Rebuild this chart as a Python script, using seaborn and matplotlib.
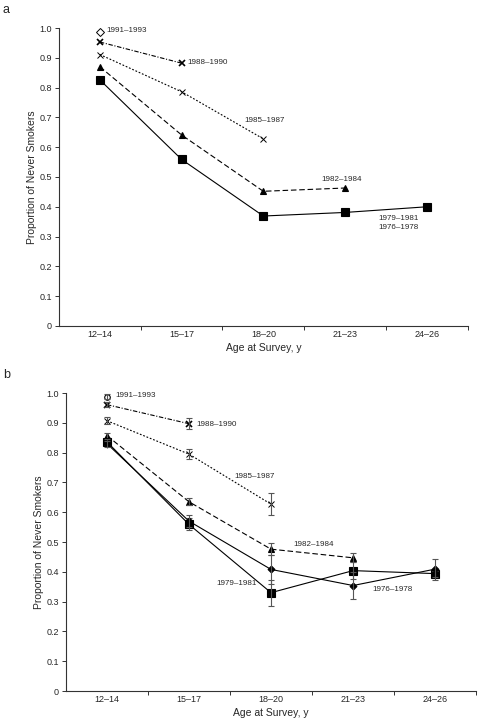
import pandas as pd
import seaborn as sns
import matplotlib.pyplot as plt
import numpy as np

ages = ['12–14', '15–17', '18–20', '21–23', '24–26']

# panel a values
a_1991 = [0.985]
a_1988 = [0.953, 0.882]
a_1985 = [0.911, 0.786, 0.628]
a_1982 = [0.870, 0.641, 0.452, 0.463]
a_1979 = [0.826, 0.559, 0.369, 0.381, 0.400]

# panel b values and error bars
b_1991 = [0.988]
b_1988 = [0.961, 0.897]
b_1985 = [0.907, 0.795, 0.627]
b_1982 = [0.857, 0.635, 0.476, 0.447]
b_1979 = [0.836, 0.559, 0.330, 0.404, 0.394]
b_1976 = [0.830, 0.570, 0.408, 0.354, 0.409]

b_1991_err = [0.008]
b_1988_err = [0.008, 0.018]
b_1985_err = [0.012, 0.017, 0.038]
b_1982_err = [0.010, 0.012, 0.020, 0.015]
b_1979_err = [0.010, 0.020, 0.044, 0.028, 0.010]
b_1976_err = [0.010, 0.020, 0.048, 0.045, 0.035]

sns.set_style('ticks')
plt.rcParams['font.family'] = ['Liberation Sans', 'DejaVu Sans']

fig = plt.figure(figsize=(4.78, 7.18), dpi=100)
ax_a = fig.add_axes([0.1234, 0.546, 0.855, 0.415])
ax_b = fig.add_axes([0.138, 0.0376, 0.858, 0.415])


def draw(ax, vals, ls, marker, ms, mfc='black', mew=0.8, err=None):
    df = pd.DataFrame({'x': np.arange(len(vals)), 'y': vals})
    sns.lineplot(data=df, x='x', y='y', ax=ax, color='black', lw=0.8,
                 linestyle=ls, marker=marker, markersize=ms,
                 markerfacecolor=mfc, markeredgecolor='black',
                 markeredgewidth=mew)
    if err is not None:
        ax.errorbar(df['x'], df['y'], yerr=err, fmt='none', ecolor='#555555',
                    elinewidth=0.8, capsize=2.5, capthick=0.8)


dashdot = (0, (4, 1.5, 1, 1.5))
dotted = (0, (1.6, 1.6))
dashed = (0, (5, 2.5))

# panel a
draw(ax_a, a_1991, '-', 'D', 4, mfc='white', mew=0.7)
draw(ax_a, a_1988, dashdot, 'x', 5, mew=1.2)
draw(ax_a, a_1985, dotted, 'x', 5, mew=0.7)
draw(ax_a, a_1982, dashed, '^', 5)
draw(ax_a, a_1979, '-', 's', 6)

# panel b
draw(ax_b, b_1991, '-', 'o', 4, mfc='white', err=b_1991_err)
draw(ax_b, b_1988, dashdot, 'x', 4, mew=1.2, err=b_1988_err)
draw(ax_b, b_1985, dotted, 'x', 4, mew=0.7, err=b_1985_err)
draw(ax_b, b_1982, dashed, '^', 5, err=b_1982_err)
draw(ax_b, b_1979, '-', 's', 6, err=b_1979_err)
draw(ax_b, b_1976, '-', 'D', 3.5, err=b_1976_err)

for ax in (ax_a, ax_b):
    ax.set_xlim(-0.5, 4.5)
    ax.set_ylim(0, 1.0)
    ax.set_yticks(np.arange(0, 1.01, 0.1))
    ax.set_yticklabels(['0'] + ['%.1f' % v for v in np.arange(0.1, 1.01, 0.1)])
    ax.set_xticks(np.arange(0.5, 4.6, 1.0))
    ax.set_xticklabels([])
    ax.set_xticks(np.arange(5), minor=True)
    ax.set_xticklabels(ages, minor=True)
    ax.tick_params(axis='x', which='minor', length=0, labelsize=6.5, pad=3)
    ax.tick_params(axis='x', which='major', length=3, width=0.7, color='#333333')
    ax.tick_params(axis='y', length=3, width=0.7, labelsize=6.5, color='#333333', pad=2)
    for s in ('top', 'right'):
        ax.spines[s].set_visible(False)
    for s in ('left', 'bottom'):
        ax.spines[s].set_linewidth(0.8)
        ax.spines[s].set_color('#333333')
    ax.set_xlabel('Age at Survey, y', fontsize=7.5, labelpad=3)
    ax.set_ylabel('Proportion of Never Smokers', fontsize=7.5, labelpad=2)

fs = 5.8
ax_a.text(0.085, 0.99, '1991–1993', fontsize=fs, va='center')
ax_a.text(1.07, 0.883, '1988–1990', fontsize=fs, va='center')
ax_a.text(1.77, 0.688, '1985–1987', fontsize=fs, va='center')
ax_a.text(2.71, 0.493, '1982–1984', fontsize=fs, va='center')
ax_a.text(3.41, 0.362, '1979–1981', fontsize=fs, va='center')
ax_a.text(3.41, 0.332, '1976–1978', fontsize=fs, va='center')

ax_b.text(0.1, 0.993, '1991–1993', fontsize=fs, va='center')
ax_b.text(1.085, 0.893, '1988–1990', fontsize=fs, va='center')
ax_b.text(1.55, 0.72, '1985–1987', fontsize=fs, va='center')
ax_b.text(2.27, 0.49, '1982–1984', fontsize=fs, va='center')
ax_b.text(1.34, 0.36, '1979–1981', fontsize=fs, va='center')
ax_b.text(3.23, 0.342, '1976–1978', fontsize=fs, va='center')

fig.text(0.006, 0.986, 'a', fontsize=9, va='center')
fig.text(0.006, 0.478, 'b', fontsize=9, va='center')

fig.savefig('out.png', dpi=100)
